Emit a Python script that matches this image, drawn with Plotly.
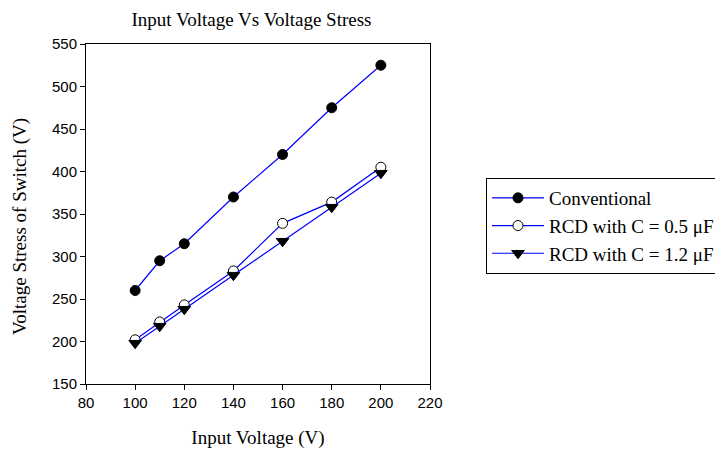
import plotly.graph_objects as go

input_voltage = [100, 110, 120, 140, 160, 180, 200]
conventional = [260, 295, 315, 370, 420, 475, 525]
rcd_05 = [202, 223, 243, 283, 339, 364, 405]
rcd_12 = [198, 218, 238, 278, 318, 358, 398]

SERIF = "Liberation Serif, Times New Roman, serif"
SANS = "Liberation Sans, Arial, sans-serif"

fig = go.Figure()
fig.add_trace(go.Scatter(x=input_voltage, y=conventional, mode="lines+markers",
                         name="Conventional",
                         line=dict(color="#0000FF", width=1.2),
                         marker=dict(symbol="circle", size=10, color="black",
                                     line=dict(color="black", width=1))))
fig.add_trace(go.Scatter(x=input_voltage, y=rcd_05, mode="lines+markers",
                         name="RCD with C = 0.5 μF",
                         line=dict(color="#0000FF", width=1.2),
                         marker=dict(symbol="circle", size=10, color="white",
                                     line=dict(color="black", width=1))))
fig.add_trace(go.Scatter(x=input_voltage, y=rcd_12, mode="lines+markers",
                         name="RCD with C = 1.2 μF",
                         line=dict(color="#0000FF", width=1.2),
                         marker=dict(symbol="triangle-down", size=11, color="black",
                                     line=dict(color="black", width=1))))

axis_common = dict(showgrid=False, zeroline=False, showline=True, linecolor="black",
                   linewidth=1, mirror=True, ticks="outside", ticklen=5,
                   tickcolor="black",
                   tickfont=dict(family=SANS, size=15, color="black"))

fig.update_layout(
    width=715, height=451,
    margin=dict(l=86, r=285, t=44, b=67, autoexpand=False),
    paper_bgcolor="white", plot_bgcolor="white",
    title=dict(text="Input Voltage Vs Voltage Stress", x=251.5 / 715,
               xanchor="center", y=1 - 19 / 451, yanchor="middle",
               font=dict(family=SERIF, size=19, color="black")),
    xaxis=dict(range=[80, 220], tickvals=[80, 100, 120, 140, 160, 180, 200, 220],
               title=dict(text="Input Voltage (V)", standoff=20,
                          font=dict(family=SERIF, size=19, color="black")),
               **axis_common),
    yaxis=dict(range=[150, 550], tickvals=[150, 200, 250, 300, 350, 400, 450, 500, 550],
               **axis_common),
    legend=dict(x=1.1628, y=0.6059, xanchor="left", yanchor="top",
                bordercolor="black", borderwidth=1, bgcolor="white",
                font=dict(family=SERIF, size=19, color="black"),
                tracegroupgap=0, itemwidth=52),
    showlegend=True,
    annotations=[dict(text="Voltage Stress of Switch (V)", textangle=-90,
                      xref="paper", yref="paper",
                      x=-66 / 344, y=(384 - 227) / 340,
                      xanchor="center", yanchor="middle", showarrow=False,
                      font=dict(family=SERIF, size=19, color="black"))],
)

fig.write_html("out.html",
               config={"displayModeBar": False},
               post_script="document.body.style.margin='0';document.body.style.overflow='hidden';")
